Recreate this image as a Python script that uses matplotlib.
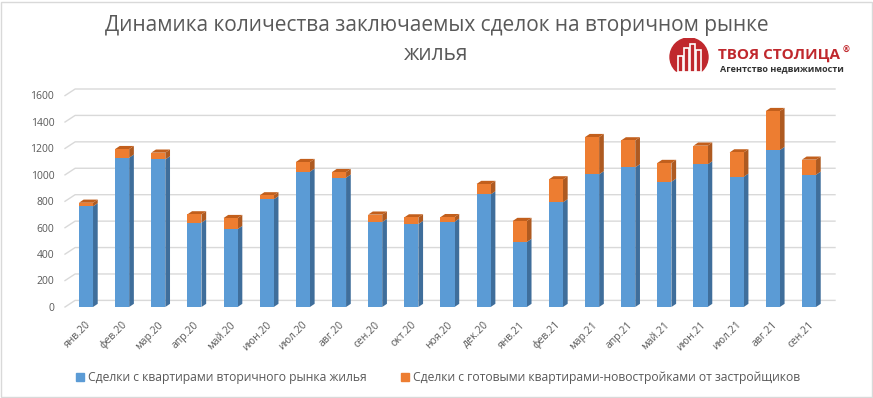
import matplotlib.pyplot as plt
from matplotlib.patches import Polygon, Rectangle
import numpy as np

plt.rcParams['font.family'] = ['Open Sans', 'DejaVu Sans']

# data
months = ['янв.20', 'фев.20', 'мар.20', 'апр.20', 'май.20', 'июн.20', 'июл.20',
          'авг.20', 'сен.20', 'окт.20', 'ноя.20', 'дек.20', 'янв.21', 'фев.21',
          'мар.21', 'апр.21', 'май.21', 'июн.21', 'июл.21', 'авг.21', 'сен.21']
secondary = [762, 1130, 1117, 638, 590, 815, 1024, 979, 643, 628, 645, 852,
             492, 792, 1004, 1057, 948, 1079, 986, 1188, 1001]
totals = [789, 1195, 1168, 701, 673, 845, 1097, 1021, 699, 678, 680, 931,
          651, 966, 1286, 1261, 1090, 1221, 1170, 1483, 1115]
new_built = [t - s for t, s in zip(totals, secondary)]
yticks = [0, 200, 400, 600, 800, 1000, 1200, 1400, 1600]

series_names = ['Сделки с квартирами вторичного рынка жилья',
                'Сделки с готовыми квартирами-новостройками от застройщиков']
title = 'Динамика количества заключаемых сделок на вторичном рынке\nжилья'

BLUE, BLUE_SIDE, BLUE_TOP = '#5b9bd5', '#3f6e9b', '#4a83b8'
ORANGE, ORANGE_SIDE, ORANGE_TOP = '#ed7d31', '#ae5a21', '#c25f1c'
TEXT = '#595959'
GRID = '#d9d9d9'

W, H = 873, 398
fig = plt.figure(figsize=(W / 100, H / 100), dpi=100)
ax = fig.add_axes([65 / W, (H - 307) / H, 770 / W, 218 / H])
ax.set_xlim(-0.58, 20.72)
ax.set_ylim(0, 1650)
ax.axis('off')

# back wall gridlines (3d look: slanted at left)
gdx, gdy = 0.28, 50
for v in yticks:
    ax.plot([-0.58, -0.58 + gdx, 20.72], [v, v + gdy, v + gdy],
            color=GRID, lw=1, zorder=1, clip_on=False)
    ax.text(-0.88, v - 10, str(v), ha='right', va='center', fontsize=7.5,
            color=TEXT)

x = np.arange(len(months))
w = 0.39
sdx, sdy = 0.13, 24


def bar3d(xc, bottom, height, side, top, draw_top):
    l, r = xc - w / 2, xc + w / 2
    t = bottom + height
    ax.add_patch(Polygon([(r, bottom), (r + sdx, bottom + sdy),
                          (r + sdx, t + sdy), (r, t)],
                         closed=True, facecolor=side, edgecolor='none',
                         zorder=3))
    if draw_top:
        ax.add_patch(Polygon([(l, t), (l + sdx, t + sdy), (r + sdx, t + sdy),
                              (r, t)], closed=True, facecolor=top,
                             edgecolor='none', zorder=3))


for i in range(len(months)):
    bar3d(x[i], 0, secondary[i], BLUE_SIDE, BLUE_TOP, False)
    bar3d(x[i], secondary[i], new_built[i], ORANGE_SIDE, ORANGE_TOP, True)
ax.bar(x, secondary, width=w, color=BLUE, zorder=4)
ax.bar(x, new_built, width=w, bottom=secondary, color=ORANGE, zorder=4)

for i, m in enumerate(months):
    ax.text(x[i] - 0.02, -95, m, rotation=45, ha='right', va='top',
            rotation_mode='anchor', fontsize=7.5, color=TEXT)

# title
fig.text(0.5, 1 - 25 / H, title.split('\n')[0], ha='center', va='center',
         fontsize=15, color=TEXT)
fig.text(0.5, 1 - 54 / H, title.split('\n')[1], ha='center', va='center',
         fontsize=15, color=TEXT)

# legend
fig.patches.append(Rectangle((76 / W, 1 - 381 / H), 8 / W, 8 / H,
                             transform=fig.transFigure, color=BLUE))
fig.text(88 / W, 1 - 377 / H, series_names[0], ha='left', va='center',
         fontsize=8.7, color=TEXT)
fig.patches.append(Rectangle((401 / W, 1 - 381 / H), 8 / W, 8 / H,
                             transform=fig.transFigure, color=ORANGE))
fig.text(413 / W, 1 - 377 / H, series_names[1], ha='left', va='center',
         fontsize=8.7, color=TEXT)

# logo
lax = fig.add_axes([666 / W, 1 - 76 / H, 46 / W, 38 / H])
lax.set_xlim(0, 46)
lax.set_ylim(0, 38)
lax.set_aspect('equal')
lax.axis('off')
lax.add_patch(plt.Circle((23, 19), 19, color='#c0282d'))
lax.add_patch(Rectangle((0, 0), 46, 4, color='white'))
for bx, bh in [(12, 16), (18, 24), (24, 28), (30, 22)]:
    lax.add_patch(Rectangle((bx, 4), 4.5, bh, fill=False, edgecolor='white',
                            lw=1.2))
fig.text(718 / W, 1 - 55 / H, 'ТВОЯ СТОЛИЦА', ha='left', va='center',
         fontsize=11, fontweight='bold', color='#c0282d')
fig.text(843 / W, 1 - 50 / H, '®', ha='left', va='center', fontsize=6,
         fontweight='bold', color='#c0282d')
fig.text(720 / W, 1 - 69 / H, 'Агентство недвижимости', ha='left',
         va='center', fontsize=6.5, fontweight='bold', color='#333333')

# light frame
fig.patches.append(Rectangle((0.5 / W, 1.5 / H), 1 - 1.5 / W, 1 - 3 / H,
                             transform=fig.transFigure, fill=False,
                             edgecolor=GRID, lw=1))

fig.savefig('out.png', dpi=100)
